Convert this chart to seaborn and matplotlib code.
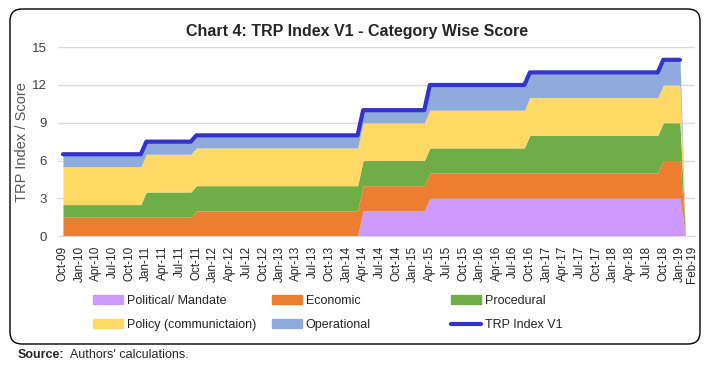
import numpy as np
import pandas as pd
import seaborn as sns
import matplotlib.pyplot as plt
from matplotlib.patches import FancyBboxPatch, Patch
from matplotlib.lines import Line2D
from matplotlib.transforms import IdentityTransform, ScaledTranslation

# step levels, each one holds from its start month onwards
period_starts = ['2009-10', '2011-01', '2011-10', '2014-04', '2015-04', '2016-10', '2018-10', '2019-02']
political = [0, 0, 0, 2, 3, 3, 3, 0]
economic = [1.5, 1.5, 2, 2, 2, 2, 3, 0]
procedural = [1, 2, 2, 2, 2, 3, 3, 0]
policy = [3, 3, 3, 3, 3, 3, 3, 0]
operational = [1, 1, 1, 1, 2, 2, 2, 0]
trp_index = [6.5, 7.5, 8, 10, 12, 13, 14, np.nan]

series_names = ['Political/ Mandate', 'Economic', 'Procedural',
                'Policy (communictaion)', 'Operational']
colors = ['#CC99FF', '#ED7D31', '#70AD47', '#FFD966', '#8FAADC']
line_color = '#3333CC'

# monthly frame
months = pd.date_range('2009-10-01', '2019-02-01', freq='MS')
starts = pd.to_datetime(period_starts)
pos = np.searchsorted(starts.values, months.values, side='right') - 1
df = pd.DataFrame({'month': months, 'idx': np.arange(len(months))})
for name, vals in zip(series_names, [political, economic, procedural, policy, operational]):
    df[name] = np.array(vals, dtype=float)[pos]
df['TRP Index V1'] = np.array(trp_index, dtype=float)[pos]

sns.set_style('white')
plt.rcParams['font.family'] = ['Liberation Sans', 'DejaVu Sans']

fig = plt.figure(figsize=(7.07, 3.66), dpi=100)
ax = fig.add_axes([0.082, 0.355, 0.901, 0.516])

ax.stackplot(df['idx'], *[df[n] for n in series_names], colors=colors, linewidth=0)
line_df = df.dropna(subset=['TRP Index V1'])
sns.lineplot(data=line_df, x='idx', y='TRP Index V1', ax=ax, color=line_color, lw=3)

ax.set_xlim(-0.9, 113.7)
ax.set_ylim(0, 15)
ax.set_yticks([0, 3, 6, 9, 12, 15])
ax.yaxis.grid(True, color='#D9D9D9', lw=1)
ax.set_axisbelow(True)
for s in ['top', 'right', 'left']:
    ax.spines[s].set_visible(False)
ax.spines['bottom'].set_color('#D9D9D9')
ax.tick_params(axis='both', length=0)
ax.tick_params(axis='y', labelsize=9.5, labelcolor='#404040', pad=8)

tick_idx = list(range(0, len(months) - 1, 3)) + [len(months) - 1]
ax.set_xticks(tick_idx)
ax.set_xticklabels([months[i].strftime('%b-%y') for i in tick_idx],
                   rotation=90, fontsize=8.5, color='#262626')
ax.tick_params(axis='x', pad=7)
last = ax.get_xticklabels()[-1]
last.set_transform(last.get_transform() + ScaledTranslation(5 / 72, 0, fig.dpi_scale_trans))

ax.set_xlabel('')
ax.set_ylabel('TRP Index / Score', fontsize=10.5, color='#595959', labelpad=2)

fig.text(0.505, 0.915, 'Chart 4: TRP Index V1 - Category Wise Score',
         ha='center', va='center', fontsize=11.5, fontweight='bold')

# legend, three equal columns like the excel one
handles = [Patch(color=c) for c in colors] + [Line2D([], [], color=line_color, lw=3)]
labels = series_names + ['TRP Index V1']
cols = [(0, 3), (1, 4), (2, 5)]
xs = [93 / 707, 272 / 707, 451 / 707]
for (a, b), x in zip(cols, xs):
    fig.legend([handles[a], handles[b]], [labels[a], labels[b]], loc='upper left',
               bbox_to_anchor=(x, 0.195), frameon=False, fontsize=9,
               handlelength=2.4, handleheight=0.7, handletextpad=0.3,
               labelspacing=1.0, borderpad=0, borderaxespad=0)

box = FancyBboxPatch((10, 22), 690, 335, boxstyle='round,pad=0,rounding_size=12',
                     transform=IdentityTransform(), fill=False, edgecolor='black',
                     lw=1, zorder=-1)
fig.patches.append(box)

fig.text(18 / 707, 0.030, 'Source:', fontsize=9, fontweight='bold', va='center')
fig.text(70 / 707, 0.030, "Authors' calculations.", fontsize=9, va='center')

fig.savefig('out.png', dpi=100)
